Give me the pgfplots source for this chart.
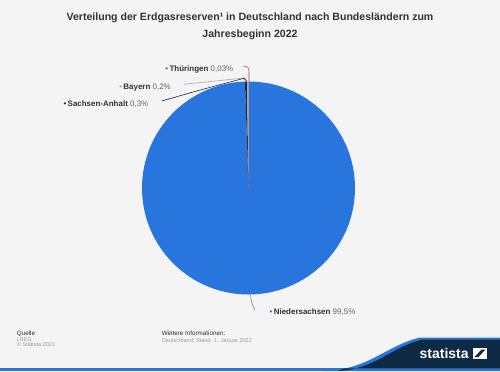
\documentclass[border=0pt]{standalone}
\usepackage{pgfplots}
\pgfplotsset{compat=1.18}
\usepackage{pgfplotstable}
\usepackage{fontspec}
\setmainfont{Liberation Sans}
\definecolor{bg}{HTML}{F4F4F4}
\definecolor{cBlue}{HTML}{2876DD}
\definecolor{cNavy}{HTML}{132A40}
\definecolor{cGrey}{HTML}{A8A8A8}
\definecolor{cRed}{HTML}{D33A3A}
\definecolor{tDark}{HTML}{333333}
\definecolor{tVal}{HTML}{666666}
\definecolor{tFoot}{HTML}{9A9A9A}
\definecolor{logoNavy}{HTML}{0F2A44}

\pgfplotstableread{
idx value
0 99.5
1 0.3
2 0.2
3 0.03
}\piedata

\newcommand\lbl[3]{{\color{#1}\textbullet}\,\textbf{\color{tDark}#2} {\color{tVal}#3}}

\begin{document}
\begin{tikzpicture}[x=1bp,y=-1bp]
\fill[bg] (0,0) rectangle (500,371);

\pgfplotstablegetelem{0}{value}\of\piedata \let\vA\pgfplotsretval
\pgfplotstablegetelem{1}{value}\of\piedata \let\vB\pgfplotsretval
\pgfplotstablegetelem{2}{value}\of\piedata \let\vC\pgfplotsretval
\pgfplotstablegetelem{3}{value}\of\piedata \let\vD\pgfplotsretval
\pgfmathsetmacro\tot{\vA+\vB+\vC+\vD}
\pgfmathsetmacro\aA{90-360*(\vA/\tot)}
\pgfmathsetmacro\aB{\aA-360*(\vB/\tot)}
\pgfmathsetmacro\aC{\aB-360*(\vC/\tot)}
\pgfmathsetmacro\aD{\aC-360*(\vD/\tot)}

\begin{axis}[at={(248.5bp,-188bp)}, anchor=origin, hide axis, scale only axis,
  width=213bp, height=213bp, xmin=-1, xmax=1, ymin=-1, ymax=1, clip=false]
\fill[cBlue] (axis cs:0,0) -- (axis cs:0,1) arc[start angle=90, end angle=\aA, radius=106.5bp] -- cycle;
\fill[cNavy] (axis cs:0,0) -- (axis cs:{cos(\aA)},{sin(\aA)}) arc[start angle=\aA, end angle=\aB, radius=106.5bp] -- cycle;
\fill[cGrey] (axis cs:0,0) -- (axis cs:{cos(\aB)},{sin(\aB)}) arc[start angle=\aB, end angle=\aC, radius=106.5bp] -- cycle;
\fill[cRed] (axis cs:0,0) -- (axis cs:{cos(\aC)},{sin(\aC)}) arc[start angle=\aC, end angle=\aD, radius=106.5bp] -- cycle;
\end{axis}

% connectors
\draw[cRed, line width=0.6bp] (243,66) .. controls (248,66) and (249,68) .. (249,72) -- (249,81.5);
\draw[cGrey, line width=0.6bp] (184,84.3) -- (244,78) -- (247.5,81.5);
\draw[cNavy, line width=0.6bp] (161.7,101) .. controls (200,90) .. (244,78.3) -- (247,81.5);
\draw[cGrey!70!black, line width=0.5bp] (250.5,295) .. controls (251.5,303) .. (255,310);

% labels
\begin{scope}[every node/.style={inner sep=0pt, font=\fontsize{8}{9}\selectfont}]
\node[anchor=base east] at (233.5,71.8) {\lbl{cRed}{Thüringen}{0,03\%}};
\node[anchor=base east] at (171,89.8) {\lbl{cGrey}{Bayern}{0,2\%}};
\node[anchor=base east] at (148.5,106.8) {\lbl{cNavy}{Sachsen-Anhalt}{0,3\%}};
\node[anchor=base west] at (269.5,314.3) {\lbl{cBlue}{Niedersachsen}{99,5\%}};
\end{scope}

% title
\node[anchor=base, inner sep=0pt, font=\fontsize{10.6}{12}\selectfont\bfseries, text=tDark] at (250,20.5) {Verteilung der Erdgasreserven¹ in Deutschland nach Bundesländern zum};
\node[anchor=base, inner sep=0pt, font=\fontsize{10.6}{12}\selectfont\bfseries, text=tDark] at (250,37) {Jahresbeginn 2022};

% footer
\begin{scope}[every node/.style={inner sep=0pt, anchor=base west}]
\node[font=\fontsize{6.3}{7}\selectfont, text=tDark] at (16.7,335) {Quelle};
\node[font=\fontsize{5.6}{7}\selectfont, text=tFoot] at (16.7,341.5) {LBEG};
\node[font=\fontsize{5.6}{7}\selectfont, text=tFoot] at (16.7,346.8) {© Statista 2022};
\node[font=\fontsize{6.3}{7}\selectfont, text=tDark] at (161.7,335) {Weitere Informationen:};
\node[font=\fontsize{5.6}{7}\selectfont, text=tFoot] at (161.7,342) {Deutschland; Stand: 1. Januar 2022};
\end{scope}

% logo band
\fill[cBlue] (0,368.3) rectangle (500,371);
\fill[cBlue] (325,371) .. controls (370,369) and (385,346) .. (420,337.5) -- (500,337.5) -- (500,371) -- cycle;
\fill[logoNavy] (338,371) .. controls (375,369) and (390,348) .. (422,339.5) -- (500,339.5) -- (500,368.3) -- (345,368.3) -- cycle;
\node[anchor=base west, inner sep=0pt, font=\fontsize{14}{14}\selectfont\bfseries, text=white] at (419.5,358.5) {statista};
\fill[white] (473,348) rectangle (487,358.5);
\fill[logoNavy] (474.5,357) -- (478.5,357) -- (485.5,349.5) -- (481.5,349.5) -- cycle;
\end{tikzpicture}
\end{document}
